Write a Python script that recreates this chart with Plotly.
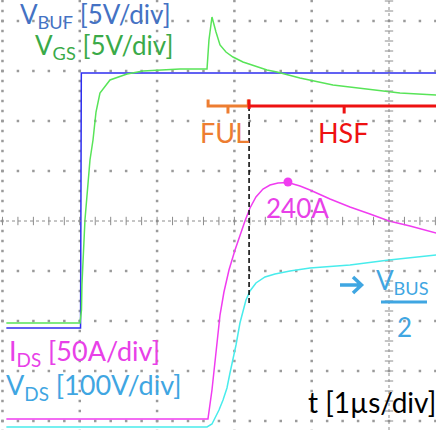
import numpy as np
import plotly.graph_objects as go

# ---- data (time in µs = screen divisions, amplitudes in screen divisions) ----
vbuf_t = [0.05, 1.01, 1.02, 5.61]
vbuf_y = [-2.14, -2.14, 2.96, 2.96]

vgs_t = [0.05, 1.003, 1.022, 1.028, 1.067, 1.132, 1.171, 1.210, 1.261, 1.391, 1.611,
         1.818, 2.296, 2.646, 2.671, 2.710, 2.762, 2.814, 2.891, 2.982, 3.111, 3.266,
         3.422, 3.551, 3.848, 4.275, 4.715, 5.142, 5.61]
vgs_y = [-2.04, -2.04, -1.78, -1.28, 0.02, 1.22, 1.62, 2.18, 2.56, 2.82, 2.94,
         3.00, 3.04, 3.04, 3.62, 4.08, 3.78, 3.52, 3.38, 3.28, 3.18, 3.10,
         3.02, 2.98, 2.86, 2.72, 2.64, 2.56, 2.52]

ids_t = [0.05, 2.658, 2.710, 2.762, 2.814, 2.865, 2.930, 3.008, 3.072, 3.137, 3.202,
         3.279, 3.370, 3.461, 3.564, 3.693, 3.849, 3.978, 4.237, 4.495, 4.754, 5.000,
         5.272, 5.61]
ids_y = [-3.96, -3.96, -3.38, -2.58, -1.88, -1.42, -0.98, -0.58, -0.28, 0.00, 0.26,
         0.48, 0.64, 0.72, 0.76, 0.77, 0.70, 0.62, 0.44, 0.28, 0.14, 0.00,
         -0.10, -0.24]

vds_t = [0.05, 2.646, 2.710, 2.749, 2.801, 2.853, 2.904, 2.943, 2.982, 3.021, 3.072,
         3.111, 3.150, 3.202, 3.279, 3.396, 3.525, 3.719, 3.978, 4.495, 5.000, 5.61]
vds_y = [-4.12, -4.12, -4.06, -3.94, -3.78, -3.58, -3.34, -3.04, -2.78, -2.48, -2.04,
         -1.78, -1.58, -1.40, -1.24, -1.12, -1.06, -1.00, -0.94, -0.88, -0.78, -0.68]

peak_t = [3.693]
peak_y = [0.78]
peak_label = "240A"

ful_interval = [2.66, 3.18]
ful_mark = 2.917
hsf_interval = [3.19, 5.70]
hsf_mark = 4.42
cursor_t = 3.19

# ---- colours ----
C_BUF_TR = "#2e2ef0"
C_GS_TR = "#58e458"
C_IDS_TR = "#f03cf0"
C_VDS_TR = "#48ecec"
C_BUF_TXT = "#4472c4"
C_GS_TXT = "#3aaa48"
C_IDS_TXT = "#e840e8"
C_VDS_TXT = "#3fa6e2"
C_FUL = "#ed7d31"
C_HSF = "#ee1111"
GRID = "#9a9a9a"
AXC = "#8c8c8c"

X_RANGE = [-0.032, 5.608]
Y_RANGE = [-4.18, 4.42]

fig = go.Figure()

# ---- oscilloscope graticule (dots) ----
gx, gy = [], []
minor_t = np.round(np.arange(0, 5.7, 0.2), 3)
minor_y = np.round(np.arange(-4.2, 4.5, 0.2), 3)
for yy in range(-4, 5):
    if yy == 0:
        continue
    for tt in minor_t:
        gx.append(tt); gy.append(yy)
for tt in range(0, 6):
    if tt == 5:
        continue
    for yy in minor_y:
        gx.append(tt); gy.append(yy)
fig.add_trace(go.Scatter(x=gx, y=gy, mode="markers", hoverinfo="skip",
                         marker=dict(size=2.5, color=GRID, symbol="square"), showlegend=False))

# centre axes
fig.add_shape(type="line", xref="x", yref="y", x0=X_RANGE[0], x1=X_RANGE[1], y0=0, y1=0,
              line=dict(color=AXC, width=1, dash="dot"))
fig.add_shape(type="line", xref="x", yref="y", x0=5, x1=5, y0=Y_RANGE[0], y1=Y_RANGE[1],
              line=dict(color=AXC, width=1, dash="dot"))
fig.add_trace(go.Scatter(x=list(minor_t), y=[0] * len(minor_t), mode="markers", hoverinfo="skip",
                         marker=dict(symbol="line-ns", size=6, line=dict(width=1, color=AXC)),
                         showlegend=False))
fig.add_trace(go.Scatter(x=[5] * len(minor_y), y=list(minor_y), mode="markers", hoverinfo="skip",
                         marker=dict(symbol="line-ew", size=6, line=dict(width=1, color=AXC)),
                         showlegend=False))

# ---- traces ----
fig.add_trace(go.Scatter(x=vds_t, y=vds_y, mode="lines", line=dict(color=C_VDS_TR, width=1.5), showlegend=False))
fig.add_trace(go.Scatter(x=ids_t, y=ids_y, mode="lines", line=dict(color=C_IDS_TR, width=1.5), showlegend=False))
fig.add_trace(go.Scatter(x=vbuf_t, y=vbuf_y, mode="lines", line=dict(color=C_BUF_TR, width=1.5), showlegend=False))
fig.add_trace(go.Scatter(x=vgs_t, y=vgs_y, mode="lines", line=dict(color=C_GS_TR, width=1.5), showlegend=False))
fig.add_trace(go.Scatter(x=peak_t, y=peak_y, mode="markers", marker=dict(size=9, color=C_IDS_TR), showlegend=False))

# cursor
fig.add_shape(type="line", xref="x", yref="y", x0=cursor_t, x1=cursor_t, y0=-1.64, y1=2.26,
              line=dict(color="black", width=1.5, dash="5px,3px"))

# brackets
BY, UP, DN = 2.30, 0.13, 0.15
ful_path = (f"M {ful_interval[0]},{BY+UP} L {ful_interval[0]},{BY} L {ful_interval[1]},{BY} "
            f"L {ful_interval[1]},{BY+UP} M {ful_mark},{BY} L {ful_mark},{BY-DN}")
fig.add_shape(type="path", xref="x", yref="y", path=ful_path, line=dict(color=C_FUL, width=3))
hsf_path = (f"M {hsf_interval[0]},{BY+UP} L {hsf_interval[0]},{BY-0.06} "
            f"M {hsf_interval[0]},{BY} L {hsf_interval[1]},{BY} "
            f"M {hsf_mark},{BY} L {hsf_mark},{BY-DN}")
fig.add_shape(type="path", xref="x", yref="y", path=hsf_path, line=dict(color=C_HSF, width=3))

FONT = "Lato, 'DejaVu Sans', sans-serif"
W, H = 436, 430

def px(v):
    return v / W

def py(v):
    return 1 - v / H

def txt(s, x, y, color, size, xa="center", ya="top"):
    fig.add_annotation(text=s, xref="paper", yref="paper", x=px(x), y=py(y),
                       xanchor=xa, yanchor=ya, showarrow=False,
                       font=dict(family=FONT, size=size, color=color))

txt("V<sub>BUF</sub> [5V/div]", 95, -4, C_BUF_TXT, 26)
txt("V<sub>GS</sub> [5V/div]", 104, 27, C_GS_TXT, 26)
txt("FUL", 225, 132, C_FUL, 27, ya="middle")
txt("HSF", 343, 132, C_HSF, 27, ya="middle")
txt(peak_label, 297, 208, C_IDS_TXT, 26, ya="middle")
# arrow towards V_BUS/2
fig.add_shape(type="path", xref="paper", yref="paper",
              path=f"M {px(340)},{py(285)} L {px(361)},{py(285)} M {px(353)},{py(277)} "
                   f"L {px(361.5)},{py(285)} L {px(353)},{py(293)}",
              line=dict(color=C_VDS_TXT, width=3.5))
txt("V<sub>BUS</sub>", 402, 262, C_VDS_TXT, 26)
txt("2", 404, 327, C_VDS_TXT, 26, ya="middle")
fig.add_shape(type="line", xref="paper", yref="paper", x0=px(381), x1=px(427),
              y0=py(302), y1=py(302), line=dict(color=C_VDS_TXT, width=3))
txt("I<sub>DS</sub> [50A/div]", 84, 332, C_IDS_TXT, 27)
txt("V<sub>DS</sub> [100V/div]", 94, 366, C_VDS_TXT, 27)
txt("t [1µs/div]", 372, 383, "black", 28)

fig.update_xaxes(range=X_RANGE, visible=False, showgrid=False, zeroline=False)
fig.update_yaxes(range=Y_RANGE, visible=False, showgrid=False, zeroline=False)
fig.update_layout(width=W, height=H, margin=dict(l=0, r=0, t=0, b=0),
                  paper_bgcolor="white", plot_bgcolor="white")

fig.write_html("out.html", config={"displayModeBar": False, "staticPlot": True},
               post_script="document.body.style.margin='0px';document.body.style.overflow='hidden';")
